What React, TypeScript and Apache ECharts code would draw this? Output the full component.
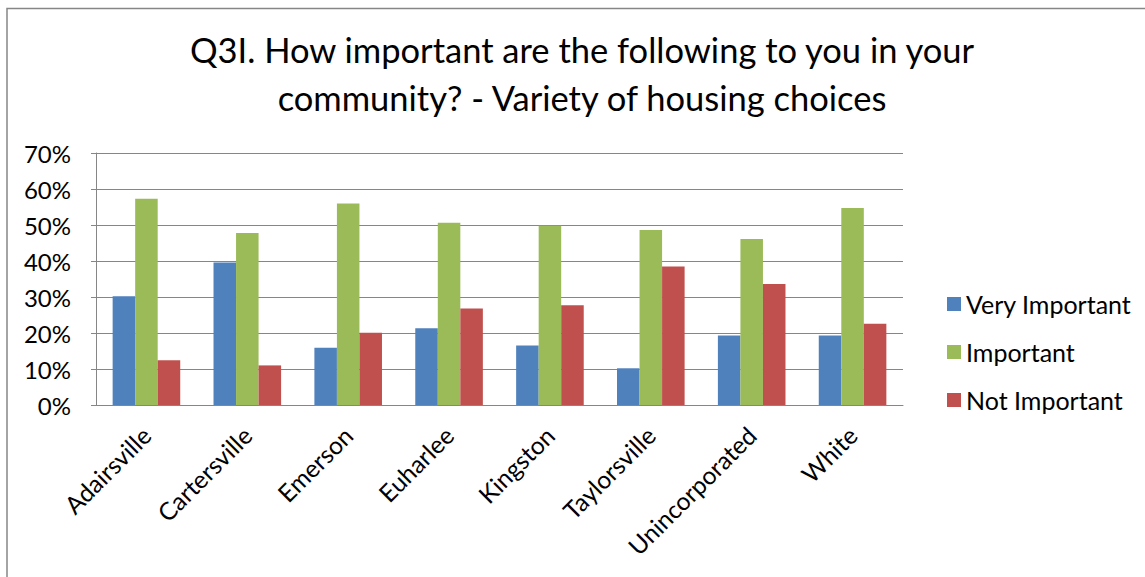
import React, { useEffect, useRef } from "react";
import * as echarts from "echarts";

const categories = ["Adairsville", "Cartersville", "Emerson", "Euharlee", "Kingston", "Taylorsville", "Unincorporated", "White"];
const veryImportant = [30.2, 39.6, 15.9, 21.3, 16.5, 10.2, 19.3, 19.3];
const important = [57.3, 47.8, 56.0, 50.6, 49.8, 48.6, 46.1, 54.7];
const notImportant = [12.4, 11.0, 20.1, 26.8, 27.7, 38.5, 33.6, 22.6];
const titleLines = ["Q3I. How important are the following to you in your", "community? - Variety of housing choices"];

const FONT = "Lato, 'Open Sans', sans-serif";

export default function App() {
  const ref = useRef<HTMLDivElement>(null);
  useEffect(() => {
    document.body.style.margin = "0";
    const chart = echarts.init(ref.current!, null, { renderer: "svg" });
    const mk = (name: string, data: number[], color: string) => ({
      name,
      type: "bar",
      data,
      barGap: "0%",
      barCategoryGap: "33%",
      itemStyle: { color },
    });
    chart.setOption({
      animation: false,
      backgroundColor: "#ffffff",
      textStyle: { fontFamily: FONT },
      graphic: [
        {
          type: "rect",
          shape: { x: 7, y: 8.5, width: 1200, height: 700 },
          style: { fill: "none", stroke: "#868686", lineWidth: 1.5 },
          silent: true,
        },
        {
          type: "text",
          x: 582,
          y: 25,
          silent: true,
          style: {
            text: titleLines.join("\n"),
            textAlign: "center",
            textVerticalAlign: "top",
            fontFamily: FONT,
            fontSize: 34.5,
            lineHeight: 48,
            fill: "#000",
          },
        },
      ],
      legend: {
        orient: "vertical",
        left: 942,
        top: 284,
        itemWidth: 14,
        itemHeight: 14,
        itemGap: 18,
        icon: "rect",
        textStyle: { fontFamily: FONT, fontSize: 25, color: "#000", lineHeight: 30 },
        data: ["Very Important", "Important", "Not Important"],
      },
      grid: { left: 96, right: 242, top: 153, bottom: 172, containLabel: false },
      xAxis: {
        type: "category",
        data: categories,
        axisLine: { lineStyle: { color: "#868686", width: 1 } },
        axisTick: { show: false },
        axisLabel: { rotate: 45, fontSize: 24.5, color: "#000", fontFamily: FONT, margin: 26, interval: 0 },
      },
      yAxis: {
        type: "value",
        min: 0,
        max: 70,
        interval: 10,
        axisLine: { show: true, lineStyle: { color: "#868686", width: 1 } },
        axisTick: { show: true, length: 5, lineStyle: { color: "#868686" } },
        splitLine: { lineStyle: { color: "#868686", width: 1 } },
        axisLabel: { formatter: "{value}%", fontSize: 24, color: "#000", fontFamily: FONT, margin: 25 },
      },
      series: [
        mk("Very Important", veryImportant, "#4F81BD"),
        mk("Important", important, "#9BBB59"),
        mk("Not Important", notImportant, "#C0504D"),
      ],
    });
    return () => chart.dispose();
  }, []);
  return <div ref={ref} style={{ width: 1145, height: 577 }} />;
}
